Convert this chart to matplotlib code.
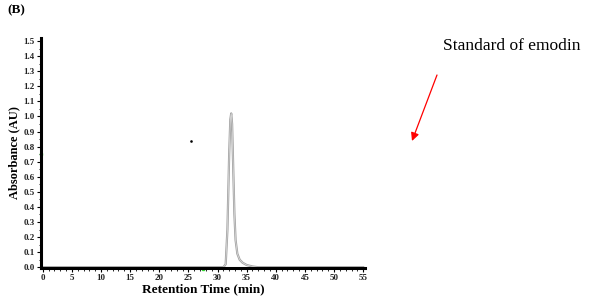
import numpy as np
import matplotlib
matplotlib.use('Agg')
import matplotlib.pyplot as plt
from matplotlib.ticker import MultipleLocator

# chromatogram of the emodin standard
time_min = [0, 31.0, 31.4, 31.7, 32.0, 32.2, 32.35, 32.5, 32.7, 32.9, 33.1,
            33.4, 33.8, 34.3, 35.0, 36.0, 37.0, 55]
absorbance = [0, 0, 0.02, 0.25, 0.75, 0.98, 1.02, 0.95, 0.65, 0.35, 0.18,
              0.09, 0.05, 0.03, 0.015, 0.005, 0, 0]

x_ticks = list(range(0, 56, 5))
y_ticks = [round(0.1 * i, 1) for i in range(16)]

plt.rcParams['font.family'] = ['Liberation Serif', 'DejaVu Serif']

fig = plt.figure(figsize=(5.9, 3.03), dpi=100)
ax = fig.add_axes([0.0695, 0.1155, 0.549, 0.759])

ax.plot(time_min, absorbance, color='#a0a0a0', lw=1.6)
ax.plot(time_min, absorbance, color='#e0e0e0', lw=0.5)

# stray marks in the original image
ax.plot([25.5], [0.84], marker='s', ms=0.8, color='black', ls='none')
ax.plot([27.5], [-0.01], marker='s', ms=2, color='#33dd33', ls='none', clip_on=False)
ax.plot([-0.35], [0.75], marker='s', ms=2, color='#33dd33', ls='none', clip_on=False)

ax.set_xlim(-0.3, 55.3)
ax.set_ylim(-0.005, 1.52)
ax.set_xticks(x_ticks)
ax.set_yticks(y_ticks)
ax.set_yticklabels([f'{v:.1f}' for v in y_ticks])
ax.xaxis.set_minor_locator(MultipleLocator(1))
ax.yaxis.set_minor_locator(MultipleLocator(0.05))

for s in ['top', 'right']:
    ax.spines[s].set_visible(False)
for s in ['left', 'bottom']:
    ax.spines[s].set_linewidth(2.2)

ax.tick_params(which='major', length=3, width=0.8, labelsize=6.5, pad=1.5)
ax.tick_params(which='minor', length=1.8, width=0.6)
for lab in ax.get_xticklabels() + ax.get_yticklabels():
    lab.set_fontweight('bold')
    lab.set_color('#222222')

ax.set_xlabel('Retention Time (min)', fontsize=9.5, fontweight='bold', labelpad=1)
ax.set_ylabel('Absorbance (AU)', fontsize=9, fontweight='bold', labelpad=2)

fig.text(0.013, 0.965, '(B)', fontsize=9.5, fontweight='bold', va='center')
fig.text(0.751, 0.848, 'Standard of emodin', fontsize=12.5, va='center')
ax.annotate('', xy=(412 / 590, 1 - 141 / 303), xycoords='figure fraction',
            xytext=(437 / 590, 1 - 75 / 303), textcoords='figure fraction',
            arrowprops=dict(arrowstyle='-|>', color='red', lw=0.9,
                            mutation_scale=12, shrinkA=0, shrinkB=0))

fig.savefig('out.png', dpi=100)
